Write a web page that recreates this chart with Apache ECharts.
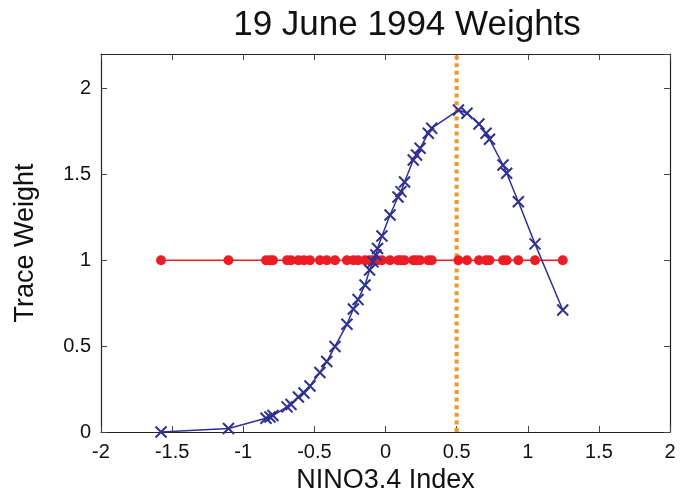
<!DOCTYPE html>
<html>
<head>
<meta charset="utf-8">
<script src="https://cdn.jsdelivr.net/npm/echarts@6/dist/echarts.min.js"></script>
<style>
  html, body { margin: 0; padding: 0; background: #fff; }
  #chart { width: 680px; height: 496px; }
</style>
</head>
<body>
<div id="chart"></div>
<script>
// ensemble members: NINO3.4 index of each trace
var nino = [-1.578, -1.104, -0.840, -0.812, -0.791, -0.692, -0.664, -0.612, -0.573, -0.531,
            -0.461, -0.413, -0.355, -0.271, -0.226, -0.193, -0.144, -0.112, -0.088, -0.067,
            -0.056, -0.025, 0.032, 0.088, 0.109, 0.134, 0.195, 0.218, 0.243, 0.301,
            0.325, 0.513, 0.573, 0.657, 0.707, 0.731, 0.826, 0.852, 0.934, 1.051, 1.246];
// weights after the update
var weights = [0.00, 0.02, 0.08, 0.087, 0.096, 0.146, 0.16, 0.204, 0.227, 0.268,
               0.346, 0.41, 0.498, 0.627, 0.716, 0.771, 0.856, 0.943, 0.99, 1.03,
               1.068, 1.141, 1.263, 1.368, 1.399, 1.455, 1.583, 1.612, 1.651, 1.739,
               1.768, 1.874, 1.855, 1.793, 1.739, 1.704, 1.554, 1.506, 1.34, 1.095, 0.71];
// prior (equal) weights
var prior = [1, 1, 1, 1, 1, 1, 1, 1, 1, 1, 1, 1, 1, 1, 1, 1, 1, 1, 1, 1, 1,
             1, 1, 1, 1, 1, 1, 1, 1, 1, 1, 1, 1, 1, 1, 1, 1, 1, 1, 1, 1];
var observed = 0.5;
var xTicks = [-2, 2, 0.5];
var yTicks = [0, 2.2, 0.5];

var FONT = '"Liberation Sans", Arial, sans-serif';

function pairs(xs, ys) {
    var out = [];
    for (var i = 0; i < xs.length; i++) {
        out.push([xs[i], ys[i]]);
    }
    return out;
}

function axisStyle(showLabel, showMax) {
    return {
        axisLine: { show: true, onZero: false, lineStyle: { color: '#222', width: 1.2 } },
        axisTick: { show: true, inside: true, length: 6, lineStyle: { color: '#444', width: 1 } },
        axisLabel: { show: showLabel, color: '#111', fontSize: 20, fontFamily: FONT, margin: 10, showMaxLabel: showMax },
        splitLine: { show: false }
    };
}

var chart = echarts.init(document.getElementById('chart'), null, { renderer: 'canvas' });

var xBase = { type: 'value', min: xTicks[0], max: xTicks[1], interval: xTicks[2] };
var yBase = { type: 'value', min: yTicks[0], max: yTicks[1], interval: yTicks[2] };

chart.setOption({
    animation: false,
    backgroundColor: '#fff',
    title: {
        text: '19 June 1994 Weights',
        left: 402, top: 3, textAlign: 'center',
        textStyle: { fontSize: 35, fontWeight: 'normal', color: '#111', fontFamily: FONT }
    },
    grid: { left: 101, right: 10, top: 54, bottom: 64, outerBoundsMode: 'none', containLabel: false },
    xAxis: [
        Object.assign({}, xBase, axisStyle(true, true), {
            position: 'bottom',
            name: 'NINO3.4 Index', nameLocation: 'middle', nameGap: 31,
            nameTextStyle: { fontSize: 27, color: '#111', fontFamily: FONT }
        }),
        Object.assign({}, xBase, axisStyle(false, false), { position: 'top' })
    ],
    yAxis: [
        Object.assign({}, yBase, axisStyle(true, false), {
            position: 'left',
            name: 'Trace Weight', nameLocation: 'middle', nameGap: 62,
            nameTextStyle: { fontSize: 27, color: '#111', fontFamily: FONT }
        }),
        Object.assign({}, yBase, axisStyle(false, false), { position: 'right' })
    ],
    series: [
        {
            type: 'line',
            data: [[observed, yTicks[0]], [observed, yTicks[1]]],
            symbol: 'none',
            lineStyle: { color: '#f7941d', width: 4, type: [4, 3.6] },
            z: 1
        },
        {
            type: 'line',
            data: pairs(nino, prior),
            symbol: 'circle',
            symbolSize: 10,
            lineStyle: { color: '#ed1c24', width: 1.5 },
            itemStyle: { color: '#ed1c24' },
            z: 2
        },
        {
            type: 'line',
            data: pairs(nino, weights),
            symbol: 'path://M0,0L10,10M10,0L0,10',
            symbolSize: 11,
            lineStyle: { color: '#2e3192', width: 1.5 },
            itemStyle: { color: '#2e3192', borderColor: '#2e3192', borderWidth: 2 },
            z: 3
        }
    ]
});
</script>
</body>
</html>
